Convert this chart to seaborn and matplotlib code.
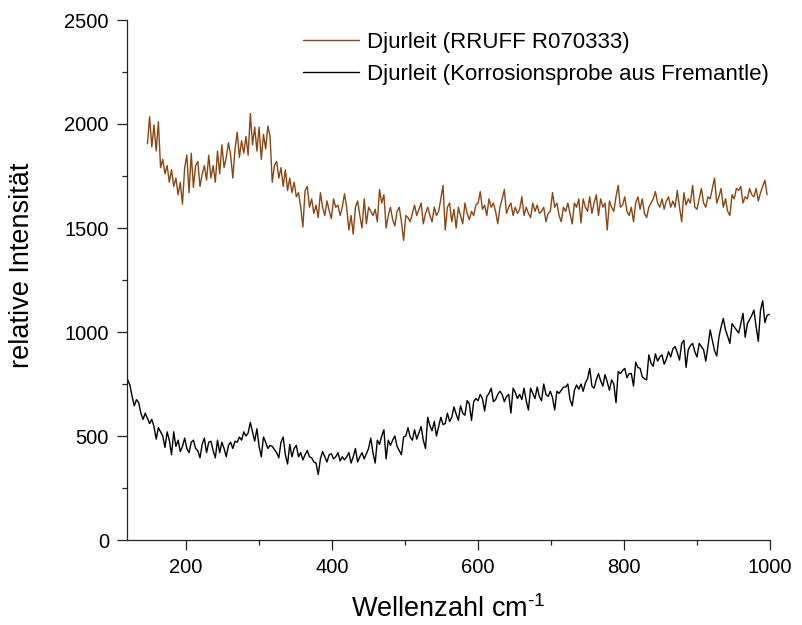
import numpy as np
import pandas as pd
import matplotlib
matplotlib.use("Agg")
import matplotlib.pyplot as plt
from matplotlib.ticker import MultipleLocator
import seaborn as sns

# ---- data ----
series_names = ["Djurleit (RRUFF R070333)", "Djurleit (Korrosionsprobe aus Fremantle)"]
series_colors = ["#8B4513", "#000000"]

# wavenumber grids: start and step in cm-1
rruff_start, rruff_step = 147, 3
fremantle_start, fremantle_step = 120, 3

rruff_intensity = [
    1905, 2035, 1890, 1995, 1870, 2010, 1790, 1830, 1760, 1800,
    1720, 1780, 1700, 1740, 1660, 1720, 1615, 1790, 1850, 1670,
    1860, 1695, 1800, 1820, 1700, 1760, 1800, 1730, 1850, 1740,
    1800, 1720, 1870, 1760, 1900, 1790, 1840, 1910, 1850, 1740,
    1880, 1960, 1840, 1920, 1860, 1940, 1850, 2050, 1900, 1985,
    1870, 1985, 1830, 1950, 1880, 1990, 1940, 1720, 1800, 1820,
    1740, 1790, 1700, 1780, 1680, 1740, 1670, 1720, 1650, 1670,
    1600, 1505, 1680, 1700, 1600, 1640, 1570, 1610, 1550, 1670,
    1600, 1560, 1630, 1585, 1545, 1640, 1600, 1610, 1560, 1600,
    1665, 1600, 1490, 1560, 1470, 1600, 1630, 1560, 1500, 1640,
    1520, 1600, 1580, 1560, 1590, 1530, 1685, 1620, 1660, 1500,
    1560, 1600, 1540, 1510, 1580, 1600, 1530, 1440, 1560, 1550,
    1530, 1570, 1610, 1560, 1590, 1620, 1520, 1570, 1600, 1560,
    1530, 1600, 1560, 1580, 1640, 1705, 1490, 1600, 1620, 1530,
    1590, 1500, 1600, 1560, 1520, 1620, 1570, 1540, 1580, 1560,
    1610, 1620, 1675, 1590, 1610, 1560, 1640, 1600, 1620, 1580,
    1520, 1600, 1640, 1685, 1570, 1600, 1620, 1560, 1600, 1570,
    1590, 1650, 1560, 1600, 1570, 1550, 1620, 1580, 1610, 1570,
    1580, 1600, 1530, 1570, 1580, 1670, 1600, 1620, 1560, 1530,
    1600, 1580, 1620, 1570, 1520, 1620, 1600, 1640, 1525, 1640,
    1600, 1580, 1650, 1570, 1620, 1660, 1560, 1640, 1600, 1620,
    1490, 1630, 1600, 1580, 1650, 1705, 1600, 1610, 1650, 1580,
    1560, 1600, 1530, 1620, 1650, 1590, 1640, 1570, 1550, 1600,
    1620, 1640, 1675, 1620, 1600, 1640, 1590, 1630, 1650, 1600,
    1630, 1600, 1680, 1600, 1530, 1670, 1610, 1640, 1620, 1705,
    1600, 1590, 1640, 1690, 1620, 1600, 1650, 1640, 1690, 1740,
    1620, 1650, 1690, 1600, 1640, 1580, 1560, 1660, 1640, 1690,
    1680, 1700, 1620, 1650, 1640, 1690, 1660, 1650, 1690, 1630,
    1670, 1700, 1730, 1660,
]

fremantle_intensity = [
    770, 745, 690, 645, 675, 660, 610, 580, 610, 585,
    560, 580, 545, 485, 540, 520, 500, 445, 520, 480,
    410, 520, 450, 480, 425, 450, 490, 440, 420, 470,
    480, 440, 430, 395, 460, 490, 420, 470, 475, 430,
    395, 480, 420, 470, 440, 400, 455, 470, 440, 475,
    470, 495, 480, 520, 500, 515, 565, 520, 475, 535,
    450, 400, 495, 470, 440, 455, 450, 435, 420, 395,
    470, 495, 410, 365, 460, 400, 440, 455, 400, 420,
    385, 410, 430, 400, 395, 375, 370, 315, 390, 425,
    400, 375, 410, 415, 390, 400, 420, 380, 400, 385,
    400, 420, 370, 400, 440, 375, 400, 420, 390, 415,
    440, 490, 420, 370, 480, 460, 500, 530, 390, 480,
    455, 480, 500, 450, 430, 410, 495, 500, 540, 495,
    480, 530, 485, 515, 545, 480, 440, 590, 550, 525,
    570, 500, 545, 590, 555, 560, 610, 570, 590, 640,
    605, 575, 645, 610, 600, 670, 655, 575, 665, 680,
    670, 700, 680, 620, 690, 705, 730, 665, 675, 700,
    715, 700, 665, 690, 700, 610, 730, 710, 680, 700,
    675, 730, 670, 625, 730, 705, 680, 735, 690, 670,
    750, 700, 690, 715, 685, 625, 715, 705, 720, 735,
    735, 750, 675, 645, 720, 745, 725, 750, 715, 755,
    775, 825, 740, 730, 770, 800, 765, 740, 795, 760,
    720, 770, 750, 660, 810, 800, 815, 825, 780, 800,
    800, 740, 855, 830, 825, 785, 775, 770, 890, 850,
    835, 895, 860, 880, 890, 845, 870, 905, 880, 920,
    930, 900, 865, 945, 960, 830, 915, 935, 945, 905,
    880, 945, 930, 915, 860, 930, 1010, 960, 910, 885,
    975, 1025, 1065, 1010, 980, 945, 1040, 1025, 1010, 995,
    1040, 1090, 975, 1040, 1060, 1080, 1105, 1025, 955, 1105,
    1150, 1045, 1080, 1085,
]

x_major_ticks = [200, 400, 600, 800, 1000]
y_major_ticks = [0, 500, 1000, 1500, 2000, 2500]

rruff_df = pd.DataFrame({
    "Wellenzahl": rruff_start + rruff_step * np.arange(len(rruff_intensity)),
    "Intensitaet": rruff_intensity,
})
fremantle_df = pd.DataFrame({
    "Wellenzahl": fremantle_start + fremantle_step * np.arange(len(fremantle_intensity)),
    "Intensitaet": fremantle_intensity,
})

# ---- style ----
sns.set_style("ticks")
plt.rcParams["font.family"] = ["Liberation Sans", "DejaVu Sans"]
plt.rcParams["mathtext.fontset"] = "custom"
plt.rcParams["mathtext.rm"] = "Liberation Sans"
plt.rcParams["mathtext.it"] = "Liberation Sans"
plt.rcParams["mathtext.bf"] = "Liberation Sans"
plt.rcParams["text.color"] = "black"
plt.rcParams["axes.labelcolor"] = "black"
plt.rcParams["xtick.labelcolor"] = "black"
plt.rcParams["ytick.labelcolor"] = "black"
plt.rcParams["axes.edgecolor"] = "#222222"
plt.rcParams["axes.linewidth"] = 0.9
for k in ["xtick.major.width", "ytick.major.width", "xtick.minor.width", "ytick.minor.width"]:
    plt.rcParams[k] = 0.9

fig = plt.figure(figsize=(8.02, 6.25), dpi=100)
ax = fig.add_axes([127 / 802, 85 / 625, 643 / 802, 520 / 625])

sns.lineplot(data=rruff_df, x="Wellenzahl", y="Intensitaet", color=series_colors[0],
             linewidth=1.0, label=series_names[0], ax=ax, estimator=None, sort=False)
sns.lineplot(data=fremantle_df, x="Wellenzahl", y="Intensitaet", color=series_colors[1],
             linewidth=1.0, label=series_names[1], ax=ax, estimator=None, sort=False)

ax.set_xlim(119, 1000)
ax.set_ylim(0, 2500)
ax.set_xticks(x_major_ticks)
ax.set_yticks(y_major_ticks)
ax.xaxis.set_minor_locator(MultipleLocator(100))
ax.yaxis.set_minor_locator(MultipleLocator(250))
ax.tick_params(axis="both", which="major", length=7, labelsize=14.5, color="#222222", pad=6)
ax.tick_params(axis="both", which="minor", length=3.5, color="#222222")

sns.despine(ax=ax)
ax.set_xlabel("Wellenzahl cm$^{\\text{-1}}$", fontsize=19.5, labelpad=13)
ax.set_ylabel("relative Intensität", fontsize=19.5)
ax.yaxis.set_label_coords(-0.143, 0.529)

leg = ax.legend(loc="upper left", bbox_to_anchor=(303 / 802, 1 - 32 / 625),
                bbox_transform=fig.transFigure, frameon=False, fontsize=16,
                handlelength=2.5, handletextpad=0.4, borderpad=0, borderaxespad=0,
                labelspacing=0.48)

fig.savefig("out.png", dpi=100, facecolor="white")
